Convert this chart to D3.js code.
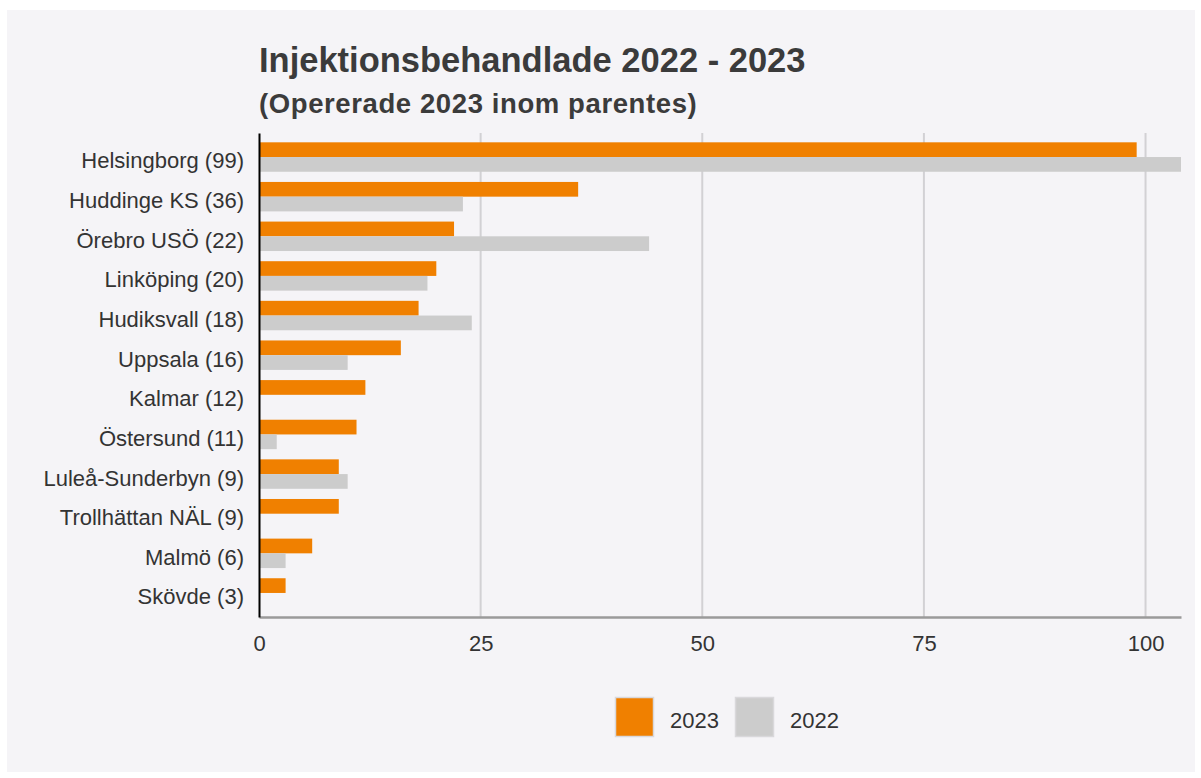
<!DOCTYPE html>
<html><head><meta charset="utf-8">
<script src="https://cdn.jsdelivr.net/npm/d3@7"></script>
<style>
html,body{margin:0;padding:0;background:#fff;}
svg{display:block;font-family:"Liberation Sans",Arial,sans-serif;}
</style></head>
<body>
<svg id="chart" width="1201" height="778"></svg>
<script>
const categories = ["Helsingborg (99)","Huddinge KS (36)","Örebro USÖ (22)","Linköping (20)","Hudiksvall (18)","Uppsala (16)","Kalmar (12)","Östersund (11)","Luleå-Sunderbyn (9)","Trollhättan NÄL (9)","Malmö (6)","Skövde (3)"];
const values2023 = [99,36,22,20,18,16,12,11,9,9,6,3];
const values2022 = [104,23,44,19,24,10,0,2,10,0,3,0];
const seriesNames = ["2023","2022"];
const seriesColors = ["#f08000","#cccccc"];
const xTicks = [0,25,50,75,100];

(function(){
const svg = d3.select("#chart");
svg.append("rect").attr("x",7).attr("y",10).attr("width",1188).attr("height",762).attr("fill","#f5f4f7");

const pLeft=259, pRight=1181, pTop=133, pBottom=617;
const x = d3.scaleLinear().domain([0,104]).range([pLeft,pRight]);
const y = d3.scaleBand().domain(categories).range([pTop,pBottom]).paddingInner(0.257).paddingOuter(0.235);
const ySub = d3.scaleBand().domain(seriesNames).range([0,y.bandwidth()]);

// gridlines
svg.append("g").selectAll("line").data(xTicks.filter(d=>d>0)).join("line")
  .attr("x1",d=>x(d)).attr("x2",d=>x(d)).attr("y1",pTop).attr("y2",pBottom)
  .attr("stroke","#d2d1d4").attr("stroke-width",2);

// bars
const data = categories.map((c,i)=>({c, vals:[values2023[i],values2022[i]]}));
const g = svg.append("g").selectAll("g").data(data).join("g")
  .attr("transform",d=>`translate(0,${y(d.c)})`);
g.selectAll("rect").data(d=>d.vals.map((v,j)=>({v,s:seriesNames[j],col:seriesColors[j]})).filter(e=>e.v>0)).join("rect")
  .attr("x",x(0)).attr("y",e=>ySub(e.s)).attr("width",e=>x(e.v)-x(0)).attr("height",ySub.bandwidth())
  .attr("fill",e=>e.col);

// x axis
const xAxis = d3.axisBottom(x).tickValues(xTicks).tickSize(0).tickPadding(18);
const xg = svg.append("g").attr("transform",`translate(0,${pBottom})`).call(xAxis);
xg.select(".domain").attr("stroke","#9a9a9a").attr("stroke-width",2.5);
xg.selectAll("text").attr("font-size",22).attr("fill","#333").attr("font-family","Liberation Sans, Arial, sans-serif");

// y axis
const yAxis = d3.axisLeft(y).tickSize(0).tickPadding(15);
const yg = svg.append("g").attr("transform",`translate(${pLeft},0)`).call(yAxis);
yg.select(".domain").attr("stroke","#000").attr("stroke-width",2);
yg.selectAll("text").attr("font-size",22).attr("dy","0.52em").attr("fill","#333").attr("font-family","Liberation Sans, Arial, sans-serif");

// titles
svg.append("text").attr("x",259).attr("y",72).attr("font-size",34.5).attr("font-weight","bold").attr("fill","#3b3b3b").text("Injektionsbehandlade 2022 - 2023");
svg.append("text").attr("x",259).attr("y",113).attr("font-size",27.5).attr("letter-spacing",0.6).attr("font-weight","bold").attr("fill","#3b3b3b").text("(Opererade 2023 inom parentes)");

// legend
const legX = [615,735];
const lg = svg.append("g").selectAll("g").data(seriesNames).join("g")
  .attr("transform",(d,i)=>`translate(${legX[i]},697)`);
lg.append("rect").attr("x",0.5).attr("y",0.5).attr("width",38).attr("height",39)
  .attr("fill",(d,i)=>seriesColors[i]).attr("stroke","#d9d8db").attr("stroke-width",1.5);
lg.append("text").attr("x",55).attr("y",31).attr("font-size",22).attr("fill","#333").text(d=>d);
})();
</script>
</body></html>
